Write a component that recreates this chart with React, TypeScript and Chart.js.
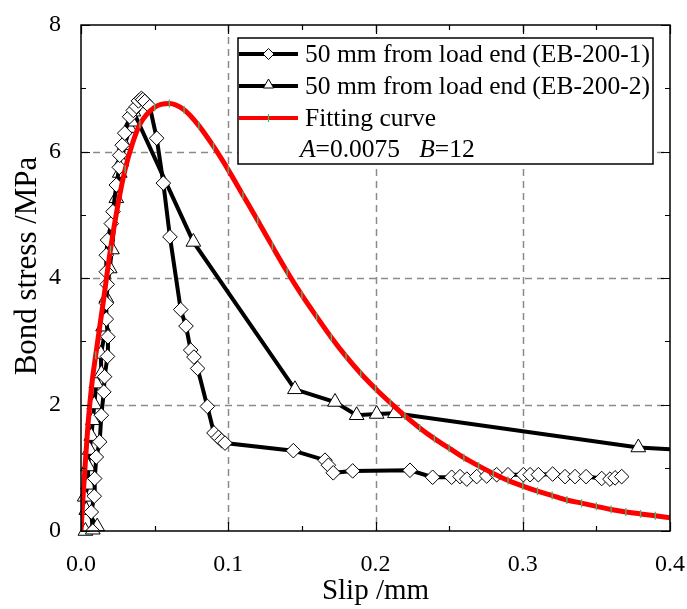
import React, { useEffect, useRef } from 'react';
import { Chart, registerables } from 'chart.js';

Chart.register(...registerables);

const FONT = '"Liberation Serif", "Times New Roman", "DejaVu Serif", serif';

// EB-200-1 (diamonds)
const eb1Slip = [0.008, 0.007, 0.009, 0.0093, 0.0104, 0.0127, 0.0138, 0.0155, 0.016, 0.018, 0.0183, 0.0172, 0.0172, 0.0178, 0.0172, 0.0172, 0.018, 0.0206, 0.0217, 0.024, 0.026, 0.0263, 0.028, 0.0297, 0.033, 0.0355, 0.0376, 0.039, 0.041, 0.042, 0.0433, 0.0467, 0.0514, 0.0559, 0.0604, 0.0677, 0.0713, 0.0745, 0.0767, 0.0792, 0.0858, 0.0903, 0.0933, 0.0955, 0.0978, 0.1442, 0.1657, 0.168, 0.1713, 0.1845, 0.2234, 0.2388, 0.2517, 0.2574, 0.262, 0.2687, 0.2755, 0.2823, 0.29, 0.3004, 0.305, 0.3106, 0.3203, 0.3287, 0.3355, 0.343, 0.3536, 0.3592, 0.3627, 0.3672];
const eb1Stress = [0, 0.3, 0.55, 0.83, 1.17, 1.41, 1.83, 2.2, 2.44, 2.76, 3.07, 3.35, 3.6, 3.9, 4.1, 4.36, 4.6, 4.86, 5.05, 5.47, 5.75, 5.94, 6.1, 6.29, 6.55, 6.65, 6.71, 6.8, 6.84, 6.82, 6.79, 6.71, 6.21, 5.5, 4.65, 3.5, 3.24, 2.86, 2.75, 2.57, 1.97, 1.55, 1.48, 1.43, 1.39, 1.27, 1.12, 1.04, 0.92, 0.95, 0.96, 0.85, 0.85, 0.86, 0.82, 0.86, 0.87, 0.89, 0.89, 0.89, 0.89, 0.89, 0.9, 0.86, 0.86, 0.86, 0.83, 0.82, 0.84, 0.86];

// EB-200-2 (triangles)
const eb2Slip = [0.003, 0.008, 0.011, 0.0036, 0.0025, 0.0048, 0.0048, 0.0059, 0.007, 0.0081, 0.009, 0.0104, 0.0138, 0.0135, 0.016, 0.015, 0.0172, 0.0195, 0.021, 0.024, 0.0263, 0.0274, 0.0297, 0.033, 0.0344, 0.0356, 0.0763, 0.1453, 0.1725, 0.1872, 0.2008, 0.2132, 0.3785, 0.42];
const eb2Stress = [0, 0.02, 0.07, 0.33, 0.54, 0.73, 1.02, 1.28, 1.5, 1.75, 2.0, 2.33, 2.49, 2.8, 3.1, 3.23, 3.68, 4.15, 4.45, 5.26, 5.66, 5.84, 6.1, 6.37, 6.47, 6.63, 4.57, 2.24, 2.04, 1.83, 1.85, 1.86, 1.32, 1.27];

// Fitting curve
const fitSlip = [0, 0.001, 0.002, 0.005, 0.0075, 0.01, 0.015, 0.02, 0.025, 0.03, 0.035, 0.04, 0.05, 0.06, 0.07, 0.08, 0.09, 0.1, 0.11, 0.12, 0.13, 0.14, 0.15, 0.16, 0.17, 0.18, 0.19, 0.2, 0.21, 0.22, 0.23, 0.24, 0.25, 0.26, 0.27, 0.28, 0.29, 0.3, 0.31, 0.32, 0.33, 0.34, 0.35, 0.36, 0.37, 0.38, 0.39, 0.4];
const fitStress = [0, 0.4, 0.75, 1.75, 2.35, 2.78, 3.6, 4.45, 5.15, 5.72, 6.13, 6.43, 6.7, 6.76, 6.66, 6.41, 6.08, 5.71, 5.31, 4.91, 4.5, 4.1, 3.73, 3.39, 3.06, 2.76, 2.49, 2.25, 2.03, 1.82, 1.63, 1.46, 1.31, 1.16, 1.03, 0.91, 0.8, 0.71, 0.63, 0.56, 0.49, 0.44, 0.39, 0.34, 0.3, 0.27, 0.24, 0.21];

const xTickValues = [0, 0.1, 0.2, 0.3, 0.4];
const xTickLabels = ['0.0', '0.1', '0.2', '0.3', '0.4'];
const yTickValues = [0, 2, 4, 6, 8];
const yTickLabels = ['0', '2', '4', '6', '8'];
const xMinorStep = 0.05;
const yMinorStep = 1;

const legendLabels = ['50 mm from load end (EB-200-1)', '50 mm from load end (EB-200-2)', 'Fitting curve'];
const paramA = '0.0075';
const paramB = '12';

const xTitle = 'Slip /mm';
const yTitle = 'Bond stress /MPa';

function drawDiamond(ctx: CanvasRenderingContext2D, x: number, y: number, r: number) {
  ctx.beginPath();
  ctx.moveTo(x - r, y);
  ctx.lineTo(x, y - r);
  ctx.lineTo(x + r, y);
  ctx.lineTo(x, y + r);
  ctx.closePath();
  ctx.fillStyle = '#fff';
  ctx.fill();
  ctx.strokeStyle = '#000';
  ctx.lineWidth = 1;
  ctx.stroke();
}

function drawTriangle(ctx: CanvasRenderingContext2D, x: number, y: number, r: number) {
  ctx.beginPath();
  ctx.moveTo(x, y - r);
  ctx.lineTo(x + r * 0.866, y + r * 0.5);
  ctx.lineTo(x - r * 0.866, y + r * 0.5);
  ctx.closePath();
  ctx.fillStyle = '#fff';
  ctx.fill();
  ctx.strokeStyle = '#000';
  ctx.lineWidth = 1;
  ctx.stroke();
}

const framePlugin = {
  id: 'frameAndLegend',
  beforeDatasetsDraw(chart: any) {
    const { ctx, chartArea: a, scales } = chart;
    const xs = scales.x;
    const ys = scales.y;
    ctx.save();
    ctx.strokeStyle = '#8a8a8a';
    ctx.lineWidth = 1.5;
    ctx.setLineDash([7, 5]);
    xTickValues.slice(1, -1).forEach((v) => {
      const p = Math.round(xs.getPixelForValue(v)) + 0.5;
      ctx.beginPath();
      ctx.moveTo(p, a.top);
      ctx.lineTo(p, a.bottom);
      ctx.stroke();
    });
    yTickValues.slice(1, -1).forEach((v) => {
      const p = Math.round(ys.getPixelForValue(v)) + 0.5;
      ctx.beginPath();
      ctx.moveTo(a.left, p);
      ctx.lineTo(a.right, p);
      ctx.stroke();
    });
    ctx.restore();
  },
  afterDatasetsDraw(chart: any) {
    const { ctx, chartArea: a, scales } = chart;
    const xs = scales.x;
    const ys = scales.y;
    ctx.save();
    ctx.setLineDash([]);
    ctx.strokeStyle = '#000';
    ctx.lineWidth = 1.5;
    ctx.strokeRect(a.left, a.top, a.right - a.left, a.bottom - a.top);

    // inward ticks
    ctx.lineWidth = 1.2;
    const majorLen = 9;
    const minorLen = 5;
    const nx = Math.round((xs.max - xs.min) / xMinorStep);
    for (let i = 0; i <= nx; i++) {
      const v = xs.min + i * xMinorStep;
      const p = Math.round(xs.getPixelForValue(v)) + 0.5;
      const len = i % 2 === 0 ? majorLen : minorLen;
      ctx.beginPath();
      ctx.moveTo(p, a.bottom);
      ctx.lineTo(p, a.bottom - len);
      ctx.moveTo(p, a.top);
      ctx.lineTo(p, a.top + len);
      ctx.stroke();
    }
    const ny = Math.round((ys.max - ys.min) / yMinorStep);
    for (let i = 0; i <= ny; i++) {
      const v = ys.min + i * yMinorStep;
      const p = Math.round(ys.getPixelForValue(v)) + 0.5;
      const len = i % 2 === 0 ? majorLen : minorLen;
      ctx.beginPath();
      ctx.moveTo(a.left, p);
      ctx.lineTo(a.left + len, p);
      ctx.moveTo(a.right, p);
      ctx.lineTo(a.right - len, p);
      ctx.stroke();
    }

    // y-axis title
    ctx.save();
    ctx.translate(27.5, a.top + (a.bottom - a.top) / 2 - 12);
    ctx.rotate(-Math.PI / 2);
    ctx.fillStyle = '#000';
    ctx.font = `31px ${FONT}`;
    ctx.textAlign = 'center';
    ctx.textBaseline = 'middle';
    ctx.fillText(yTitle, 0, 0);
    ctx.restore();

    // legend
    const bx = a.left + 157;
    const by = a.top + 13;
    const bw = 415;
    const bh = 126;
    ctx.fillStyle = '#fff';
    ctx.fillRect(bx, by, bw, bh);
    ctx.lineWidth = 1.5;
    ctx.strokeStyle = '#000';
    ctx.strokeRect(bx, by, bw, bh);

    const rows = [by + 16, by + 48, by + 80, by + 111];
    const lx0 = bx + 1;
    const lx1 = bx + 60;
    const lmid = (lx0 + lx1) / 2;
    // row 1
    ctx.lineWidth = 4;
    ctx.strokeStyle = '#000';
    ctx.beginPath(); ctx.moveTo(lx0, rows[0]); ctx.lineTo(lx1, rows[0]); ctx.stroke();
    drawDiamond(ctx, lmid, rows[0], 5.5);
    // row 2
    ctx.lineWidth = 4;
    ctx.strokeStyle = '#000';
    ctx.beginPath(); ctx.moveTo(lx0, rows[1]); ctx.lineTo(lx1, rows[1]); ctx.stroke();
    drawTriangle(ctx, lmid, rows[1] - 1, 6);
    // row 3
    ctx.lineWidth = 4;
    ctx.strokeStyle = '#ff0000';
    ctx.beginPath(); ctx.moveTo(lx0, rows[2]); ctx.lineTo(lx1, rows[2]); ctx.stroke();
    ctx.lineWidth = 1.2;
    ctx.strokeStyle = '#3cb371';
    ctx.beginPath(); ctx.moveTo(lmid, rows[2] - 4); ctx.lineTo(lmid, rows[2] + 4); ctx.stroke();

    ctx.fillStyle = '#000';
    ctx.textBaseline = 'middle';
    ctx.textAlign = 'left';
    ctx.font = `25.5px ${FONT}`;
    const tx = bx + 67;
    ctx.fillText(legendLabels[0], tx, rows[0] + 1);
    ctx.fillText(legendLabels[1], tx, rows[1] + 1);
    ctx.fillText(legendLabels[2], tx, rows[2] + 1);

    // parameter line
    let px = bx + 62;
    const py = rows[3] + 1;
    const parts: [string, boolean][] = [['A', true], ['=' + paramA + '   ', false], ['B', true], ['=' + paramB, false]];
    parts.forEach(([t, it]) => {
      ctx.font = `${it ? 'italic ' : ''}25.5px ${FONT}`;
      ctx.fillText(t, px, py);
      px += ctx.measureText(t).width;
    });
    ctx.restore();
  },
};

export default function App() {
  const canvasRef = useRef<HTMLCanvasElement | null>(null);

  useEffect(() => {
    const canvas = canvasRef.current;
    if (!canvas) return;
    const toPts = (xs: number[], ys: number[]) => xs.map((x, i) => ({ x, y: ys[i] }));

    const chart = new Chart(canvas, {
      type: 'scatter',
      data: {
        datasets: [
          {
            label: legendLabels[2],
            data: toPts(fitSlip, fitStress),
            showLine: true,
            borderColor: '#ff0000',
            borderWidth: 5,
            cubicInterpolationMode: 'monotone',
            pointStyle: 'line',
            rotation: 90,
            pointRadius: (c: any) => {
              const x = c.raw ? c.raw.x : 0;
              const k = Math.round(x * 10000);
              return k > 0 && k % 100 === 0 ? 4 : 0;
            },
            pointBorderColor: '#45b878',
            pointBackgroundColor: '#45b878',
            pointBorderWidth: 1.3,
            order: 0,
          } as any,
          {
            label: legendLabels[0],
            data: toPts(eb1Slip, eb1Stress),
            showLine: true,
            borderColor: '#000',
            borderWidth: 4,
            tension: 0,
            pointStyle: 'rectRot',
            pointRadius: 7.3,
            pointBackgroundColor: '#fff',
            pointBorderColor: '#000',
            pointBorderWidth: 1,
            order: 1,
          } as any,
          {
            label: legendLabels[1],
            data: toPts(eb2Slip, eb2Stress),
            showLine: true,
            borderColor: '#000',
            borderWidth: 4,
            tension: 0,
            pointStyle: 'triangle',
            pointRadius: 8.5,
            pointBackgroundColor: '#fff',
            pointBorderColor: '#000',
            pointBorderWidth: 1,
            clip: { left: 10, top: 10, right: 0, bottom: 10 },
            order: 2,
          } as any,
        ],
      },
      options: {
        animation: false,
        responsive: false,
        devicePixelRatio: 1,
        events: [],
        layout: { padding: { top: 25, right: 17, left: 0, bottom: 0 } },
        plugins: {
          legend: { display: false },
          tooltip: { enabled: false },
        },
        scales: {
          x: {
            type: 'linear',
            min: 0,
            max: 0.4,
            grid: { display: false },
            border: { display: false },
            afterBuildTicks: (s: any) => {
              s.ticks = xTickValues.map((v) => ({ value: v }));
            },
            afterFit: (s: any) => {
              s.height = 78;
              s.paddingLeft = 0;
              s.paddingRight = 0;
            },
            ticks: {
              autoSkip: false,
              maxRotation: 0,
              padding: 11,
              color: '#000',
              font: { family: FONT, size: 24 },
              callback: (_v: any, i: number) => xTickLabels[i],
            },
            title: {
              display: true,
              text: xTitle,
              color: '#000',
              font: { family: FONT, size: 29 },
              padding: { top: 0, bottom: 0 },
            },
          },
          y: {
            type: 'linear',
            min: 0,
            max: 8,
            grid: { display: false },
            border: { display: false },
            afterBuildTicks: (s: any) => {
              s.ticks = yTickValues.map((v) => ({ value: v }));
            },
            afterFit: (s: any) => {
              s.width = 81;
              s.paddingTop = 0;
              s.paddingBottom = 0;
            },
            ticks: {
              autoSkip: false,
              padding: 12,
              color: '#000',
              font: { family: FONT, size: 24 },
              callback: (_v: any, i: number) => yTickLabels[i],
            },
            title: { display: false },
          },
        },
      } as any,
      plugins: [framePlugin],
    });

    return () => {
      chart.destroy();
    };
  }, []);

  return (
    <div style={{ position: 'fixed', left: 0, top: 0, width: 687, height: 609, background: '#fff' }}>
      <canvas ref={canvasRef} width={687} height={609} style={{ width: 687, height: 609, display: 'block' }} />
    </div>
  );
}
